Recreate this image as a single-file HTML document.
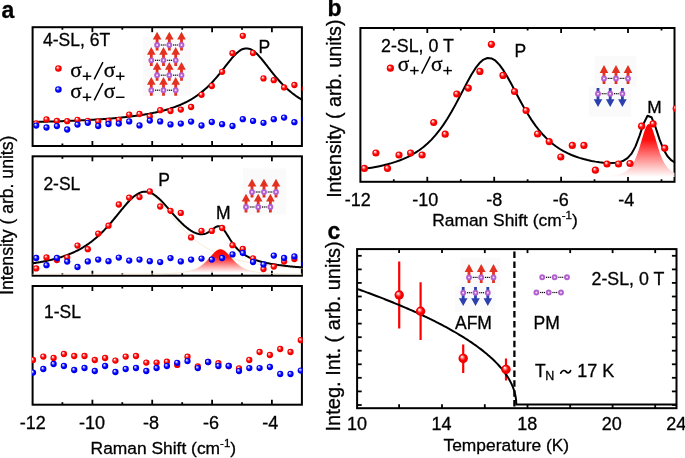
<!DOCTYPE html>
<html><head><meta charset="utf-8"><style>
html,body{margin:0;padding:0;background:#fff;overflow:hidden;}
svg{display:block;font-family:"Liberation Sans", sans-serif;}
svg{will-change:transform;}
text{stroke:#000;stroke-width:0.3px;}
</style></head><body>
<svg width="685" height="458" viewBox="0 0 685 458">
<rect width="685" height="458" fill="#fff"/>
<defs>
<radialGradient id="gR" cx="0.5" cy="0.5" r="0.5" fx="0.34" fy="0.3">
<stop offset="0" stop-color="#ffffff"/><stop offset="0.12" stop-color="#ffe0e0"/><stop offset="0.38" stop-color="#ff5a5a"/><stop offset="0.6" stop-color="#ff0000"/><stop offset="1" stop-color="#e80000"/></radialGradient>
<radialGradient id="gB" cx="0.5" cy="0.5" r="0.5" fx="0.34" fy="0.3">
<stop offset="0" stop-color="#ffffff"/><stop offset="0.12" stop-color="#e0e0ff"/><stop offset="0.38" stop-color="#5a5aff"/><stop offset="0.6" stop-color="#0000ff"/><stop offset="1" stop-color="#0000e8"/></radialGradient>
<linearGradient id="gFa" x1="0" y1="0" x2="0" y2="1"><stop offset="0" stop-color="#ff0000"/><stop offset="0.35" stop-color="#ff1a1a"/><stop offset="1" stop-color="#ffffff" stop-opacity="0.9"/></linearGradient>
<linearGradient id="gFb" x1="0" y1="0" x2="0" y2="1"><stop offset="0" stop-color="#ff0000"/><stop offset="0.3" stop-color="#ff1010"/><stop offset="1" stop-color="#ffffff" stop-opacity="0.9"/></linearGradient>
<clipPath id="ca0"><rect x="32.0" y="27.2" width="270.79999999999995" height="118.8"/></clipPath>
<clipPath id="ca1"><rect x="32.0" y="156.3" width="270.79999999999995" height="119.39999999999998"/></clipPath>
<clipPath id="ca2"><rect x="32.0" y="286.0" width="270.79999999999995" height="118.69999999999999"/></clipPath>
<clipPath id="cb"><rect x="359.79999999999995" y="28.0" width="315.40000000000003" height="153.8"/></clipPath>
<clipPath id="cc"><rect x="357.1" y="249.1" width="319.4" height="159.1"/></clipPath>
</defs>
<line x1="92.4" y1="146.0" x2="92.4" y2="141.0" stroke="#000" stroke-width="1.8"/><line x1="92.4" y1="27.2" x2="92.4" y2="32.2" stroke="#000" stroke-width="1.8"/><line x1="152.2" y1="146.0" x2="152.2" y2="141.0" stroke="#000" stroke-width="1.8"/><line x1="152.2" y1="27.2" x2="152.2" y2="32.2" stroke="#000" stroke-width="1.8"/><line x1="212.1" y1="146.0" x2="212.1" y2="141.0" stroke="#000" stroke-width="1.8"/><line x1="212.1" y1="27.2" x2="212.1" y2="32.2" stroke="#000" stroke-width="1.8"/><line x1="271.9" y1="146.0" x2="271.9" y2="141.0" stroke="#000" stroke-width="1.8"/><line x1="271.9" y1="27.2" x2="271.9" y2="32.2" stroke="#000" stroke-width="1.8"/><line x1="62.4" y1="146.0" x2="62.4" y2="143.5" stroke="#000" stroke-width="1.8"/><line x1="62.4" y1="27.2" x2="62.4" y2="29.7" stroke="#000" stroke-width="1.8"/><line x1="122.3" y1="146.0" x2="122.3" y2="143.5" stroke="#000" stroke-width="1.8"/><line x1="122.3" y1="27.2" x2="122.3" y2="29.7" stroke="#000" stroke-width="1.8"/><line x1="182.2" y1="146.0" x2="182.2" y2="143.5" stroke="#000" stroke-width="1.8"/><line x1="182.2" y1="27.2" x2="182.2" y2="29.7" stroke="#000" stroke-width="1.8"/><line x1="242.0" y1="146.0" x2="242.0" y2="143.5" stroke="#000" stroke-width="1.8"/><line x1="242.0" y1="27.2" x2="242.0" y2="29.7" stroke="#000" stroke-width="1.8"/>
<rect x="32.6" y="27.2" width="269.29999999999995" height="118.8" fill="none" stroke="#000" stroke-width="2.0"/>
<line x1="92.4" y1="275.7" x2="92.4" y2="270.7" stroke="#000" stroke-width="1.8"/><line x1="92.4" y1="156.3" x2="92.4" y2="161.3" stroke="#000" stroke-width="1.8"/><line x1="152.2" y1="275.7" x2="152.2" y2="270.7" stroke="#000" stroke-width="1.8"/><line x1="152.2" y1="156.3" x2="152.2" y2="161.3" stroke="#000" stroke-width="1.8"/><line x1="212.1" y1="275.7" x2="212.1" y2="270.7" stroke="#000" stroke-width="1.8"/><line x1="212.1" y1="156.3" x2="212.1" y2="161.3" stroke="#000" stroke-width="1.8"/><line x1="271.9" y1="275.7" x2="271.9" y2="270.7" stroke="#000" stroke-width="1.8"/><line x1="271.9" y1="156.3" x2="271.9" y2="161.3" stroke="#000" stroke-width="1.8"/><line x1="62.4" y1="275.7" x2="62.4" y2="273.2" stroke="#000" stroke-width="1.8"/><line x1="62.4" y1="156.3" x2="62.4" y2="158.8" stroke="#000" stroke-width="1.8"/><line x1="122.3" y1="275.7" x2="122.3" y2="273.2" stroke="#000" stroke-width="1.8"/><line x1="122.3" y1="156.3" x2="122.3" y2="158.8" stroke="#000" stroke-width="1.8"/><line x1="182.2" y1="275.7" x2="182.2" y2="273.2" stroke="#000" stroke-width="1.8"/><line x1="182.2" y1="156.3" x2="182.2" y2="158.8" stroke="#000" stroke-width="1.8"/><line x1="242.0" y1="275.7" x2="242.0" y2="273.2" stroke="#000" stroke-width="1.8"/><line x1="242.0" y1="156.3" x2="242.0" y2="158.8" stroke="#000" stroke-width="1.8"/>
<rect x="32.6" y="156.3" width="269.29999999999995" height="119.39999999999998" fill="none" stroke="#000" stroke-width="2.0"/>
<line x1="92.4" y1="404.7" x2="92.4" y2="399.7" stroke="#000" stroke-width="1.8"/><line x1="92.4" y1="286.0" x2="92.4" y2="291.0" stroke="#000" stroke-width="1.8"/><line x1="152.2" y1="404.7" x2="152.2" y2="399.7" stroke="#000" stroke-width="1.8"/><line x1="152.2" y1="286.0" x2="152.2" y2="291.0" stroke="#000" stroke-width="1.8"/><line x1="212.1" y1="404.7" x2="212.1" y2="399.7" stroke="#000" stroke-width="1.8"/><line x1="212.1" y1="286.0" x2="212.1" y2="291.0" stroke="#000" stroke-width="1.8"/><line x1="271.9" y1="404.7" x2="271.9" y2="399.7" stroke="#000" stroke-width="1.8"/><line x1="271.9" y1="286.0" x2="271.9" y2="291.0" stroke="#000" stroke-width="1.8"/><line x1="62.4" y1="404.7" x2="62.4" y2="402.2" stroke="#000" stroke-width="1.8"/><line x1="62.4" y1="286.0" x2="62.4" y2="288.5" stroke="#000" stroke-width="1.8"/><line x1="122.3" y1="404.7" x2="122.3" y2="402.2" stroke="#000" stroke-width="1.8"/><line x1="122.3" y1="286.0" x2="122.3" y2="288.5" stroke="#000" stroke-width="1.8"/><line x1="182.2" y1="404.7" x2="182.2" y2="402.2" stroke="#000" stroke-width="1.8"/><line x1="182.2" y1="286.0" x2="182.2" y2="288.5" stroke="#000" stroke-width="1.8"/><line x1="242.0" y1="404.7" x2="242.0" y2="402.2" stroke="#000" stroke-width="1.8"/><line x1="242.0" y1="286.0" x2="242.0" y2="288.5" stroke="#000" stroke-width="1.8"/>
<rect x="32.6" y="286.0" width="269.29999999999995" height="118.69999999999999" fill="none" stroke="#000" stroke-width="2.0"/>
<g clip-path="url(#ca0)">
<polyline points="32.60,122.03 33.50,122.01 34.41,121.98 35.31,121.96 36.22,121.94 37.12,121.92 38.02,121.89 38.93,121.87 39.83,121.85 40.74,121.82 41.64,121.80 42.54,121.78 43.45,121.75 44.35,121.73 45.26,121.70 46.16,121.68 47.06,121.65 47.97,121.62 48.87,121.60 49.78,121.57 50.68,121.54 51.58,121.52 52.49,121.49 53.39,121.46 54.30,121.43 55.20,121.40 56.10,121.37 57.01,121.34 57.91,121.31 58.82,121.28 59.72,121.25 60.62,121.22 61.53,121.19 62.43,121.15 63.34,121.12 64.24,121.09 65.14,121.05 66.05,121.02 66.95,120.98 67.86,120.95 68.76,120.91 69.66,120.88 70.57,120.84 71.47,120.80 72.38,120.77 73.28,120.73 74.18,120.69 75.09,120.65 75.99,120.61 76.90,120.57 77.80,120.53 78.70,120.49 79.61,120.44 80.51,120.40 81.42,120.36 82.32,120.31 83.22,120.27 84.13,120.22 85.03,120.17 85.94,120.13 86.84,120.08 87.74,120.03 88.65,119.98 89.55,119.93 90.46,119.88 91.36,119.83 92.26,119.78 93.17,119.72 94.07,119.67 94.98,119.61 95.88,119.56 96.78,119.50 97.69,119.44 98.59,119.38 99.50,119.33 100.40,119.26 101.31,119.20 102.21,119.14 103.11,119.08 104.02,119.01 104.92,118.95 105.83,118.88 106.73,118.81 107.63,118.74 108.54,118.67 109.44,118.60 110.35,118.53 111.25,118.45 112.15,118.38 113.06,118.30 113.96,118.22 114.87,118.14 115.77,118.06 116.67,117.98 117.58,117.90 118.48,117.81 119.39,117.73 120.29,117.64 121.19,117.55 122.10,117.46 123.00,117.36 123.91,117.27 124.81,117.17 125.71,117.07 126.62,116.97 127.52,116.87 128.43,116.77 129.33,116.66 130.23,116.55 131.14,116.44 132.04,116.33 132.95,116.21 133.85,116.10 134.75,115.98 135.66,115.85 136.56,115.73 137.47,115.60 138.37,115.47 139.27,115.34 140.18,115.21 141.08,115.07 141.99,114.93 142.89,114.78 143.79,114.64 144.70,114.49 145.60,114.34 146.51,114.18 147.41,114.02 148.31,113.86 149.22,113.69 150.12,113.52 151.03,113.35 151.93,113.17 152.83,112.99 153.74,112.80 154.64,112.61 155.55,112.42 156.45,112.22 157.35,112.02 158.26,111.81 159.16,111.59 160.07,111.38 160.97,111.15 161.87,110.93 162.78,110.69 163.68,110.45 164.59,110.21 165.49,109.96 166.39,109.70 167.30,109.43 168.20,109.16 169.11,108.89 170.01,108.60 170.91,108.31 171.82,108.01 172.72,107.71 173.63,107.39 174.53,107.07 175.43,106.74 176.34,106.40 177.24,106.06 178.15,105.70 179.05,105.33 179.95,104.96 180.86,104.57 181.76,104.18 182.67,103.77 183.57,103.35 184.47,102.92 185.38,102.48 186.28,102.03 187.19,101.57 188.09,101.09 188.99,100.60 189.90,100.09 190.80,99.57 191.71,99.04 192.61,98.50 193.51,97.93 194.42,97.36 195.32,96.76 196.23,96.15 197.13,95.52 198.03,94.88 198.94,94.22 199.84,93.54 200.75,92.84 201.65,92.12 202.55,91.39 203.46,90.63 204.36,89.86 205.27,89.06 206.17,88.24 207.07,87.41 207.98,86.55 208.88,85.67 209.79,84.77 210.69,83.85 211.59,82.90 212.50,81.94 213.40,80.96 214.31,79.95 215.21,78.93 216.11,77.88 217.02,76.82 217.92,75.74 218.83,74.65 219.73,73.53 220.63,72.41 221.54,71.27 222.44,70.12 223.35,68.97 224.25,67.81 225.15,66.65 226.06,65.48 226.96,64.32 227.87,63.17 228.77,62.03 229.67,60.90 230.58,59.79 231.48,58.71 232.39,57.65 233.29,56.63 234.19,55.64 235.10,54.70 236.00,53.80 236.91,52.96 237.81,52.18 238.72,51.45 239.62,50.80 240.52,50.21 241.43,49.70 242.33,49.27 243.24,48.93 244.14,48.66 245.04,48.48 245.95,48.39 246.85,48.39 247.76,48.48 248.66,48.65 249.56,48.91 250.47,49.25 251.37,49.68 252.28,50.19 253.18,50.77 254.08,51.42 254.99,52.14 255.89,52.93 256.80,53.77 257.70,54.66 258.60,55.61 259.51,56.59 260.41,57.62 261.32,58.68 262.22,59.76 263.12,60.87 264.03,62.00 264.93,63.15 265.84,64.30 266.74,65.47 267.64,66.63 268.55,67.80 269.45,68.97 270.36,70.13 271.26,71.28 272.16,72.42 273.07,73.55 273.97,74.67 274.88,75.77 275.78,76.86 276.68,77.93 277.59,78.98 278.49,80.01 279.40,81.02 280.30,82.01 281.20,82.98 282.11,83.93 283.01,84.86 283.92,85.76 284.82,86.65 285.72,87.52 286.63,88.36 287.53,89.18 288.44,89.98 289.34,90.77 290.24,91.53 291.15,92.27 292.05,93.00 292.96,93.70 293.86,94.39 294.76,95.05 295.67,95.70 296.57,96.34 297.48,96.95 298.38,97.55 299.28,98.14 300.19,98.71 301.09,99.26 302.00,99.80 302.90,100.32" fill="none" stroke="#000" stroke-width="2.0" stroke-linejoin="round" />
<circle cx="36.2" cy="123.3" r="3.15" fill="url(#gR)"/><circle cx="46.5" cy="119.4" r="3.15" fill="url(#gR)"/><circle cx="56.9" cy="121.0" r="3.15" fill="url(#gR)"/><circle cx="67.2" cy="121.2" r="3.15" fill="url(#gR)"/><circle cx="77.5" cy="119.8" r="3.15" fill="url(#gR)"/><circle cx="87.8" cy="120.8" r="3.15" fill="url(#gR)"/><circle cx="98.2" cy="121.4" r="3.15" fill="url(#gR)"/><circle cx="108.5" cy="121.0" r="3.15" fill="url(#gR)"/><circle cx="118.8" cy="119.8" r="3.15" fill="url(#gR)"/><circle cx="129.2" cy="114.6" r="3.15" fill="url(#gR)"/><circle cx="139.5" cy="114.0" r="3.15" fill="url(#gR)"/><circle cx="149.8" cy="116.4" r="3.15" fill="url(#gR)"/><circle cx="160.2" cy="110.2" r="3.15" fill="url(#gR)"/><circle cx="170.5" cy="111.0" r="3.15" fill="url(#gR)"/><circle cx="180.8" cy="109.6" r="3.15" fill="url(#gR)"/><circle cx="191.1" cy="107.0" r="3.15" fill="url(#gR)"/><circle cx="201.5" cy="94.8" r="3.15" fill="url(#gR)"/><circle cx="211.8" cy="86.0" r="3.15" fill="url(#gR)"/><circle cx="222.1" cy="71.8" r="3.15" fill="url(#gR)"/><circle cx="232.5" cy="53.2" r="3.15" fill="url(#gR)"/><circle cx="242.8" cy="35.8" r="3.15" fill="url(#gR)"/><circle cx="253.1" cy="53.0" r="3.15" fill="url(#gR)"/><circle cx="263.5" cy="78.4" r="3.15" fill="url(#gR)"/><circle cx="273.8" cy="80.2" r="3.15" fill="url(#gR)"/><circle cx="284.1" cy="87.4" r="3.15" fill="url(#gR)"/><circle cx="294.4" cy="85.0" r="3.15" fill="url(#gR)"/><circle cx="304.8" cy="88.7" r="3.15" fill="url(#gR)"/>
<circle cx="36.2" cy="125.6" r="3.15" fill="url(#gB)"/><circle cx="46.5" cy="127.5" r="3.15" fill="url(#gB)"/><circle cx="56.9" cy="126.1" r="3.15" fill="url(#gB)"/><circle cx="67.2" cy="129.5" r="3.15" fill="url(#gB)"/><circle cx="77.5" cy="124.6" r="3.15" fill="url(#gB)"/><circle cx="87.8" cy="122.8" r="3.15" fill="url(#gB)"/><circle cx="98.2" cy="126.0" r="3.15" fill="url(#gB)"/><circle cx="108.5" cy="124.0" r="3.15" fill="url(#gB)"/><circle cx="118.8" cy="123.6" r="3.15" fill="url(#gB)"/><circle cx="129.2" cy="121.4" r="3.15" fill="url(#gB)"/><circle cx="139.5" cy="125.4" r="3.15" fill="url(#gB)"/><circle cx="149.8" cy="120.6" r="3.15" fill="url(#gB)"/><circle cx="160.2" cy="121.4" r="3.15" fill="url(#gB)"/><circle cx="170.5" cy="124.4" r="3.15" fill="url(#gB)"/><circle cx="180.8" cy="123.6" r="3.15" fill="url(#gB)"/><circle cx="191.1" cy="121.6" r="3.15" fill="url(#gB)"/><circle cx="201.5" cy="125.5" r="3.15" fill="url(#gB)"/><circle cx="211.8" cy="122.0" r="3.15" fill="url(#gB)"/><circle cx="222.1" cy="124.2" r="3.15" fill="url(#gB)"/><circle cx="232.5" cy="126.0" r="3.15" fill="url(#gB)"/><circle cx="242.8" cy="119.2" r="3.15" fill="url(#gB)"/><circle cx="253.1" cy="120.9" r="3.15" fill="url(#gB)"/><circle cx="263.5" cy="122.8" r="3.15" fill="url(#gB)"/><circle cx="273.8" cy="119.2" r="3.15" fill="url(#gB)"/><circle cx="284.1" cy="117.6" r="3.15" fill="url(#gB)"/><circle cx="294.4" cy="122.2" r="3.15" fill="url(#gB)"/><circle cx="304.8" cy="119.0" r="3.15" fill="url(#gB)"/>
</g>
<g clip-path="url(#ca1)">
<polyline points="32.60,263.74 33.50,263.60 34.41,263.44 35.31,263.29 36.22,263.13 37.12,262.97 38.02,262.80 38.93,262.63 39.83,262.46 40.74,262.29 41.64,262.11 42.54,261.92 43.45,261.74 44.35,261.55 45.26,261.35 46.16,261.15 47.06,260.95 47.97,260.74 48.87,260.52 49.78,260.31 50.68,260.08 51.58,259.86 52.49,259.62 53.39,259.38 54.30,259.14 55.20,258.89 56.10,258.64 57.01,258.38 57.91,258.11 58.82,257.83 59.72,257.56 60.62,257.27 61.53,256.98 62.43,256.68 63.34,256.37 64.24,256.05 65.14,255.73 66.05,255.40 66.95,255.06 67.86,254.72 68.76,254.36 69.66,254.00 70.57,253.63 71.47,253.24 72.38,252.85 73.28,252.45 74.18,252.04 75.09,251.62 75.99,251.19 76.90,250.74 77.80,250.29 78.70,249.83 79.61,249.35 80.51,248.86 81.42,248.36 82.32,247.85 83.22,247.32 84.13,246.78 85.03,246.22 85.94,245.66 86.84,245.08 87.74,244.48 88.65,243.87 89.55,243.24 90.46,242.60 91.36,241.94 92.26,241.27 93.17,240.58 94.07,239.87 94.98,239.14 95.88,238.40 96.78,237.64 97.69,236.87 98.59,236.07 99.50,235.26 100.40,234.43 101.31,233.58 102.21,232.71 103.11,231.83 104.02,230.93 104.92,230.00 105.83,229.06 106.73,228.11 107.63,227.13 108.54,226.14 109.44,225.13 110.35,224.11 111.25,223.07 112.15,222.02 113.06,220.95 113.96,219.88 114.87,218.79 115.77,217.69 116.67,216.58 117.58,215.47 118.48,214.35 119.39,213.23 120.29,212.11 121.19,210.98 122.10,209.87 123.00,208.76 123.91,207.66 124.81,206.57 125.71,205.50 126.62,204.44 127.52,203.41 128.43,202.40 129.33,201.42 130.23,200.48 131.14,199.57 132.04,198.70 132.95,197.87 133.85,197.09 134.75,196.35 135.66,195.68 136.56,195.05 137.47,194.49 138.37,193.99 139.27,193.56 140.18,193.19 141.08,192.89 141.99,192.66 142.89,192.50 143.79,192.42 144.70,192.40 145.60,192.46 146.51,192.60 147.41,192.80 148.31,193.08 149.22,193.42 150.12,193.84 151.03,194.31 151.93,194.86 152.83,195.46 153.74,196.12 154.64,196.83 155.55,197.60 156.45,198.41 157.35,199.26 158.26,200.16 159.16,201.10 160.07,202.06 160.97,203.06 161.87,204.09 162.78,205.13 163.68,206.20 164.59,207.28 165.49,208.38 166.39,209.49 167.30,210.60 168.20,211.72 169.11,212.84 170.01,213.97 170.91,215.09 171.82,216.20 172.72,217.31 173.63,218.41 174.53,219.51 175.43,220.59 176.34,221.66 177.24,222.71 178.15,223.76 179.05,224.79 179.95,225.80 180.86,226.80 181.76,227.78 182.67,228.74 183.57,229.68 184.47,230.61 185.38,231.52 186.28,232.41 187.19,233.29 188.09,234.14 188.99,234.98 189.90,235.80 190.80,236.60 191.71,237.38 192.61,238.15 193.51,238.89 194.42,239.62 195.32,240.34 196.23,241.03 197.13,241.71 198.03,242.38 198.94,243.02 199.84,243.66 200.75,244.27 201.65,244.87 202.55,245.46 203.46,246.03 204.36,246.59 205.27,247.14 206.17,247.67 207.07,248.19 207.98,248.69 208.88,249.18 209.79,249.66 210.69,250.13 211.59,250.59 212.50,251.04 213.40,251.47 214.31,251.90 215.21,252.31 216.11,252.72 217.02,253.11 217.92,253.50 218.83,253.87 219.73,254.24 220.63,254.60 221.54,254.95 222.44,255.29 223.35,255.62 224.25,255.94 225.15,256.26 226.06,256.57 226.96,256.87 227.87,257.17 228.77,257.46 229.67,257.74 230.58,258.02 231.48,258.28 232.39,258.55 233.29,258.81 234.19,259.06 235.10,259.30 236.00,259.54 236.91,259.78 237.81,260.01 238.72,260.23 239.62,260.45 240.52,260.67 241.43,260.88 242.33,261.08 243.24,261.28 244.14,261.48 245.04,261.67 245.95,261.86 246.85,262.05 247.76,262.23 248.66,262.40 249.56,262.58 250.47,262.75 251.37,262.91 252.28,263.07 253.18,263.23 254.08,263.39 254.99,263.54 255.89,263.69 256.80,263.84 257.70,263.98 258.60,264.13 259.51,264.26 260.41,264.40 261.32,264.53 262.22,264.66 263.12,264.79 264.03,264.92 264.93,265.04 265.84,265.16 266.74,265.28 267.64,265.40 268.55,265.51 269.45,265.62 270.36,265.73 271.26,265.84 272.16,265.95 273.07,266.05 273.97,266.15 274.88,266.25 275.78,266.35 276.68,266.45 277.59,266.54 278.49,266.64 279.40,266.73 280.30,266.82 281.20,266.91 282.11,266.99 283.01,267.08 283.92,267.16 284.82,267.25 285.72,267.33 286.63,267.41 287.53,267.49 288.44,267.56 289.34,267.64 290.24,267.71 291.15,267.79 292.05,267.86 292.96,267.93 293.86,268.00 294.76,268.07 295.67,268.14 296.57,268.20 297.48,268.27 298.38,268.33 299.28,268.40 300.19,268.46 301.09,268.52 302.00,268.58 302.90,268.64" fill="none" stroke="#f3e3c8" stroke-width="0.8" stroke-linejoin="round" />
<polyline points="32.60,274.19 33.50,274.19 34.40,274.19 35.30,274.19 36.20,274.19 37.10,274.19 38.00,274.19 38.90,274.19 39.81,274.19 40.71,274.19 41.61,274.19 42.51,274.19 43.41,274.19 44.31,274.19 45.21,274.19 46.11,274.19 47.01,274.19 47.91,274.19 48.81,274.19 49.71,274.19 50.61,274.19 51.51,274.19 52.41,274.19 53.32,274.19 54.22,274.19 55.12,274.19 56.02,274.19 56.92,274.19 57.82,274.19 58.72,274.19 59.62,274.19 60.52,274.19 61.42,274.19 62.32,274.19 63.22,274.19 64.12,274.19 65.02,274.19 65.92,274.19 66.83,274.19 67.73,274.19 68.63,274.19 69.53,274.19 70.43,274.19 71.33,274.19 72.23,274.19 73.13,274.19 74.03,274.19 74.93,274.19 75.83,274.19 76.73,274.19 77.63,274.19 78.53,274.18 79.43,274.18 80.34,274.18 81.24,274.18 82.14,274.18 83.04,274.18 83.94,274.18 84.84,274.18 85.74,274.18 86.64,274.18 87.54,274.18 88.44,274.18 89.34,274.18 90.24,274.18 91.14,274.18 92.04,274.18 92.94,274.18 93.85,274.18 94.75,274.18 95.65,274.18 96.55,274.17 97.45,274.17 98.35,274.17 99.25,274.17 100.15,274.17 101.05,274.17 101.95,274.17 102.85,274.17 103.75,274.17 104.65,274.17 105.55,274.17 106.45,274.16 107.36,274.16 108.26,274.16 109.16,274.16 110.06,274.16 110.96,274.16 111.86,274.16 112.76,274.16 113.66,274.15 114.56,274.15 115.46,274.15 116.36,274.15 117.26,274.15 118.16,274.15 119.06,274.14 119.96,274.14 120.87,274.14 121.77,274.14 122.67,274.14 123.57,274.13 124.47,274.13 125.37,274.13 126.27,274.13 127.17,274.12 128.07,274.12 128.97,274.12 129.87,274.12 130.77,274.11 131.67,274.11 132.57,274.11 133.47,274.10 134.38,274.10 135.28,274.09 136.18,274.09 137.08,274.08 137.98,274.08 138.88,274.07 139.78,274.07 140.68,274.06 141.58,274.06 142.48,274.05 143.38,274.05 144.28,274.04 145.18,274.03 146.08,274.02 146.98,274.02 147.89,274.01 148.79,274.00 149.69,273.99 150.59,273.98 151.49,273.97 152.39,273.96 153.29,273.94 154.19,273.93 155.09,273.92 155.99,273.90 156.89,273.89 157.79,273.87 158.69,273.86 159.59,273.84 160.49,273.82 161.40,273.80 162.30,273.77 163.20,273.75 164.10,273.73 165.00,273.70 165.90,273.67 166.80,273.64 167.70,273.61 168.60,273.57 169.50,273.53 170.40,273.49 171.30,273.45 172.20,273.40 173.10,273.35 174.01,273.29 174.91,273.23 175.81,273.17 176.71,273.10 177.61,273.03 178.51,272.95 179.41,272.86 180.31,272.77 181.21,272.66 182.11,272.55 183.01,272.43 183.91,272.30 184.81,272.16 185.71,272.01 186.61,271.84 187.52,271.66 188.42,271.46 189.32,271.24 190.22,271.01 191.12,270.75 192.02,270.48 192.92,270.17 193.82,269.84 194.72,269.48 195.62,269.09 196.52,268.67 197.42,268.21 198.32,267.71 199.22,267.17 200.12,266.59 201.03,265.96 201.93,265.28 202.83,264.56 203.73,263.78 204.63,262.96 205.53,262.09 206.43,261.18 207.33,260.22 208.23,259.24 209.13,258.22 210.03,257.19 210.93,256.16 211.83,255.13 212.73,254.13 213.63,253.17 214.54,252.28 215.44,251.47 216.34,250.75 217.24,250.16 218.14,249.70 219.04,249.38 219.94,249.22 220.84,249.22 221.74,249.38 222.64,249.69 223.54,250.15 224.44,250.74 225.34,251.45 226.24,252.26 227.14,253.15 228.05,254.11 228.95,255.11 229.85,256.13 230.75,257.17 231.65,258.20 232.55,259.21 233.45,260.20 234.35,261.16 235.25,262.07 236.15,262.94 237.05,263.76 237.95,264.54 238.85,265.26 239.75,265.94 240.65,266.57 241.56,267.16 242.46,267.70 243.36,268.20 244.26,268.66 245.16,269.08 246.06,269.48 246.96,269.84 247.86,270.17 248.76,270.47 249.66,270.75 250.56,271.00 251.46,271.24 252.36,271.46 253.26,271.65 254.16,271.84 255.07,272.00 255.97,272.16 256.87,272.30 257.77,272.43 258.67,272.55 259.57,272.66 260.47,272.76 261.37,272.86 262.27,272.94 263.17,273.03 264.07,273.10 264.97,273.17 265.87,273.23 266.77,273.29 267.67,273.35 268.58,273.40 269.48,273.45 270.38,273.49 271.28,273.53 272.18,273.57 273.08,273.60 273.98,273.64 274.88,273.67 275.78,273.70 276.68,273.73 277.58,273.75 278.48,273.77 279.38,273.80 280.28,273.82 281.18,273.84 282.09,273.86 282.99,273.87 283.89,273.89 284.79,273.90 285.69,273.92 286.59,273.93 287.49,273.94 288.39,273.96 289.29,273.97 290.19,273.98 291.09,273.99 291.99,274.00 292.89,274.01 293.79,274.02 294.69,274.02 295.60,274.03 296.50,274.04 297.40,274.05 298.30,274.05 299.20,274.06 300.10,274.06 301.00,274.07 301.90,274.07" fill="none" stroke="#f3e3c8" stroke-width="0.9" stroke-linejoin="round" />
<polygon points="32.6,272.7 32.60,272.70 33.50,272.70 34.40,272.70 35.30,272.70 36.20,272.70 37.10,272.70 38.00,272.70 38.90,272.70 39.81,272.70 40.71,272.70 41.61,272.70 42.51,272.70 43.41,272.70 44.31,272.70 45.21,272.70 46.11,272.70 47.01,272.70 47.91,272.70 48.81,272.70 49.71,272.70 50.61,272.70 51.51,272.70 52.41,272.70 53.32,272.70 54.22,272.70 55.12,272.70 56.02,272.70 56.92,272.70 57.82,272.70 58.72,272.70 59.62,272.70 60.52,272.70 61.42,272.70 62.32,272.70 63.22,272.70 64.12,272.70 65.02,272.70 65.92,272.70 66.83,272.70 67.73,272.70 68.63,272.70 69.53,272.70 70.43,272.70 71.33,272.70 72.23,272.70 73.13,272.70 74.03,272.70 74.93,272.70 75.83,272.70 76.73,272.70 77.63,272.70 78.53,272.70 79.43,272.70 80.34,272.70 81.24,272.70 82.14,272.70 83.04,272.70 83.94,272.70 84.84,272.70 85.74,272.70 86.64,272.70 87.54,272.70 88.44,272.70 89.34,272.70 90.24,272.70 91.14,272.70 92.04,272.70 92.94,272.70 93.85,272.70 94.75,272.70 95.65,272.70 96.55,272.70 97.45,272.70 98.35,272.70 99.25,272.70 100.15,272.70 101.05,272.70 101.95,272.70 102.85,272.70 103.75,272.70 104.65,272.70 105.55,272.70 106.45,272.70 107.36,272.70 108.26,272.70 109.16,272.70 110.06,272.70 110.96,272.70 111.86,272.70 112.76,272.70 113.66,272.70 114.56,272.70 115.46,272.70 116.36,272.70 117.26,272.70 118.16,272.70 119.06,272.70 119.96,272.70 120.87,272.70 121.77,272.70 122.67,272.70 123.57,272.70 124.47,272.70 125.37,272.70 126.27,272.70 127.17,272.70 128.07,272.70 128.97,272.70 129.87,272.70 130.77,272.70 131.67,272.70 132.57,272.70 133.47,272.70 134.38,272.70 135.28,272.70 136.18,272.70 137.08,272.70 137.98,272.70 138.88,272.70 139.78,272.70 140.68,272.70 141.58,272.70 142.48,272.70 143.38,272.70 144.28,272.70 145.18,272.70 146.08,272.70 146.98,272.70 147.89,272.70 148.79,272.70 149.69,272.70 150.59,272.70 151.49,272.70 152.39,272.70 153.29,272.70 154.19,272.70 155.09,272.70 155.99,272.70 156.89,272.70 157.79,272.70 158.69,272.70 159.59,272.70 160.49,272.70 161.40,272.70 162.30,272.70 163.20,272.70 164.10,272.70 165.00,272.70 165.90,272.70 166.80,272.70 167.70,272.70 168.60,272.70 169.50,272.70 170.40,272.70 171.30,272.70 172.20,272.70 173.10,272.70 174.01,272.70 174.91,272.70 175.81,272.70 176.71,272.70 177.61,272.70 178.51,272.70 179.41,272.70 180.31,272.70 181.21,272.66 182.11,272.55 183.01,272.43 183.91,272.30 184.81,272.16 185.71,272.01 186.61,271.84 187.52,271.66 188.42,271.46 189.32,271.24 190.22,271.01 191.12,270.75 192.02,270.48 192.92,270.17 193.82,269.84 194.72,269.48 195.62,269.09 196.52,268.67 197.42,268.21 198.32,267.71 199.22,267.17 200.12,266.59 201.03,265.96 201.93,265.28 202.83,264.56 203.73,263.78 204.63,262.96 205.53,262.09 206.43,261.18 207.33,260.22 208.23,259.24 209.13,258.22 210.03,257.19 210.93,256.16 211.83,255.13 212.73,254.13 213.63,253.17 214.54,252.28 215.44,251.47 216.34,250.75 217.24,250.16 218.14,249.70 219.04,249.38 219.94,249.22 220.84,249.22 221.74,249.38 222.64,249.69 223.54,250.15 224.44,250.74 225.34,251.45 226.24,252.26 227.14,253.15 228.05,254.11 228.95,255.11 229.85,256.13 230.75,257.17 231.65,258.20 232.55,259.21 233.45,260.20 234.35,261.16 235.25,262.07 236.15,262.94 237.05,263.76 237.95,264.54 238.85,265.26 239.75,265.94 240.65,266.57 241.56,267.16 242.46,267.70 243.36,268.20 244.26,268.66 245.16,269.08 246.06,269.48 246.96,269.84 247.86,270.17 248.76,270.47 249.66,270.75 250.56,271.00 251.46,271.24 252.36,271.46 253.26,271.65 254.16,271.84 255.07,272.00 255.97,272.16 256.87,272.30 257.77,272.43 258.67,272.55 259.57,272.66 260.47,272.70 261.37,272.70 262.27,272.70 263.17,272.70 264.07,272.70 264.97,272.70 265.87,272.70 266.77,272.70 267.67,272.70 268.58,272.70 269.48,272.70 270.38,272.70 271.28,272.70 272.18,272.70 273.08,272.70 273.98,272.70 274.88,272.70 275.78,272.70 276.68,272.70 277.58,272.70 278.48,272.70 279.38,272.70 280.28,272.70 281.18,272.70 282.09,272.70 282.99,272.70 283.89,272.70 284.79,272.70 285.69,272.70 286.59,272.70 287.49,272.70 288.39,272.70 289.29,272.70 290.19,272.70 291.09,272.70 291.99,272.70 292.89,272.70 293.79,272.70 294.69,272.70 295.60,272.70 296.50,272.70 297.40,272.70 298.30,272.70 299.20,272.70 300.10,272.70 301.00,272.70 301.90,272.70 301.9,272.7" fill="url(#gFa)"/>
<polyline points="32.60,263.30 33.50,263.16 34.41,263.03 35.31,262.89 36.22,262.75 37.12,262.60 38.02,262.45 38.93,262.30 39.83,262.15 40.74,261.99 41.64,261.82 42.54,261.65 43.45,261.48 44.35,261.31 45.26,261.13 46.16,260.94 47.06,260.75 47.97,260.56 48.87,260.36 49.78,260.15 50.68,259.94 51.58,259.73 52.49,259.50 53.39,259.28 54.30,259.05 55.20,258.81 56.10,258.56 57.01,258.31 57.91,258.05 58.82,257.79 59.72,257.52 60.62,257.24 61.53,256.96 62.43,256.66 63.34,256.36 64.24,256.05 65.14,255.73 66.05,255.41 66.95,255.07 67.86,254.73 68.76,254.38 69.66,254.01 70.57,253.64 71.47,253.26 72.38,252.87 73.28,252.47 74.18,252.05 75.09,251.63 75.99,251.19 76.90,250.74 77.80,250.28 78.70,249.81 79.61,249.32 80.51,248.82 81.42,248.31 82.32,247.79 83.22,247.25 84.13,246.69 85.03,246.13 85.94,245.54 86.84,244.94 87.74,244.33 88.65,243.70 89.55,243.05 90.46,242.39 91.36,241.71 92.26,241.01 93.17,240.30 94.07,239.57 94.98,238.82 95.88,238.05 96.78,237.27 97.69,236.47 98.59,235.65 99.50,234.81 100.40,233.95 101.31,233.08 102.21,232.18 103.11,231.27 104.02,230.34 104.92,229.40 105.83,228.43 106.73,227.45 107.63,226.46 108.54,225.44 109.44,224.42 110.35,223.38 111.25,222.32 112.15,221.26 113.06,220.18 113.96,219.09 114.87,217.99 115.77,216.89 116.67,215.78 117.58,214.67 118.48,213.55 119.39,212.44 120.29,211.32 121.19,210.21 122.10,209.11 123.00,208.01 123.91,206.93 124.81,205.86 125.71,204.81 126.62,203.78 127.52,202.77 128.43,201.79 129.33,200.83 130.23,199.91 131.14,199.02 132.04,198.17 132.95,197.36 133.85,196.59 134.75,195.87 135.66,195.20 136.56,194.58 137.47,194.02 138.37,193.51 139.27,193.06 140.18,192.67 141.08,192.34 141.99,192.07 142.89,191.87 143.79,191.74 144.70,191.67 145.60,191.66 146.51,191.72 147.41,191.85 148.31,192.04 149.22,192.29 150.12,192.61 151.03,192.99 151.93,193.42 152.83,193.92 153.74,194.47 154.64,195.07 155.55,195.72 156.45,196.41 157.35,197.15 158.26,197.94 159.16,198.76 160.07,199.61 160.97,200.50 161.87,201.42 162.78,202.36 163.68,203.32 164.59,204.31 165.49,205.31 166.39,206.32 167.30,207.35 168.20,208.38 169.11,209.42 170.01,210.45 170.91,211.49 171.82,212.53 172.72,213.56 173.63,214.59 174.53,215.61 175.43,216.61 176.34,217.61 177.24,218.59 178.15,219.55 179.05,220.49 179.95,221.42 180.86,222.32 181.76,223.21 182.67,224.07 183.57,224.90 184.47,225.71 185.38,226.49 186.28,227.24 187.19,227.97 188.09,228.66 188.99,229.32 189.90,229.95 190.80,230.54 191.71,231.09 192.61,231.61 193.51,232.09 194.42,232.52 195.32,232.92 196.23,233.26 197.13,233.56 198.03,233.81 198.94,234.00 199.84,234.14 200.75,234.23 201.65,234.25 202.55,234.20 203.46,234.09 204.36,233.92 205.27,233.67 206.17,233.35 207.07,232.96 207.98,232.49 208.88,231.96 209.79,231.38 210.69,230.74 211.59,230.06 212.50,229.36 213.40,228.67 214.31,228.00 215.21,227.40 216.11,226.89 217.02,226.50 217.92,226.28 218.83,226.24 219.73,226.41 220.63,226.80 221.54,227.40 222.44,228.21 223.35,229.21 224.25,230.36 225.15,231.64 226.06,233.00 226.96,234.43 227.87,235.89 228.77,237.34 229.67,238.78 230.58,240.19 231.48,241.55 232.39,242.86 233.29,244.10 234.19,245.28 235.10,246.40 236.00,247.46 236.91,248.45 237.81,249.39 238.72,250.27 239.62,251.10 240.52,251.87 241.43,252.60 242.33,253.29 243.24,253.94 244.14,254.55 245.04,255.13 245.95,255.67 246.85,256.19 247.76,256.67 248.66,257.13 249.56,257.57 250.47,257.99 251.37,258.38 252.28,258.76 253.18,259.11 254.08,259.46 254.99,259.78 255.89,260.09 256.80,260.39 257.70,260.68 258.60,260.95 259.51,261.21 260.41,261.47 261.32,261.71 262.22,261.94 263.12,262.16 264.03,262.38 264.93,262.59 265.84,262.79 266.74,262.98 267.64,263.17 268.55,263.35 269.45,263.53 270.36,263.69 271.26,263.86 272.16,264.02 273.07,264.17 273.97,264.32 274.88,264.46 275.78,264.60 276.68,264.74 277.59,264.87 278.49,265.00 279.40,265.13 280.30,265.25 281.20,265.36 282.11,265.48 283.01,265.59 283.92,265.70 284.82,265.81 285.72,265.91 286.63,266.01 287.53,266.11 288.44,266.20 289.34,266.30 290.24,266.39 291.15,266.48 292.05,266.57 292.96,266.65 293.86,266.73 294.76,266.81 295.67,266.89 296.57,266.97 297.48,267.05 298.38,267.12 299.28,267.19 300.19,267.26 301.09,267.33 302.00,267.40 302.90,267.47" fill="none" stroke="#000" stroke-width="2.0" stroke-linejoin="round" />
<circle cx="36.2" cy="268.4" r="3.15" fill="url(#gR)"/><circle cx="46.5" cy="257.4" r="3.15" fill="url(#gR)"/><circle cx="56.9" cy="260.0" r="3.15" fill="url(#gR)"/><circle cx="67.2" cy="257.4" r="3.15" fill="url(#gR)"/><circle cx="77.5" cy="245.6" r="3.15" fill="url(#gR)"/><circle cx="87.8" cy="249.2" r="3.15" fill="url(#gR)"/><circle cx="98.2" cy="233.6" r="3.15" fill="url(#gR)"/><circle cx="108.5" cy="225.7" r="3.15" fill="url(#gR)"/><circle cx="118.8" cy="204.5" r="3.15" fill="url(#gR)"/><circle cx="129.2" cy="197.7" r="3.15" fill="url(#gR)"/><circle cx="139.5" cy="197.1" r="3.15" fill="url(#gR)"/><circle cx="149.8" cy="191.4" r="3.15" fill="url(#gR)"/><circle cx="160.2" cy="206.5" r="3.15" fill="url(#gR)"/><circle cx="170.5" cy="210.8" r="3.15" fill="url(#gR)"/><circle cx="180.8" cy="212.9" r="3.15" fill="url(#gR)"/><circle cx="191.1" cy="237.4" r="3.15" fill="url(#gR)"/><circle cx="201.5" cy="230.8" r="3.15" fill="url(#gR)"/><circle cx="211.8" cy="230.9" r="3.15" fill="url(#gR)"/><circle cx="222.1" cy="228.0" r="3.15" fill="url(#gR)"/><circle cx="232.5" cy="245.2" r="3.15" fill="url(#gR)"/><circle cx="242.8" cy="249.0" r="3.15" fill="url(#gR)"/><circle cx="253.1" cy="258.4" r="3.15" fill="url(#gR)"/><circle cx="263.5" cy="269.0" r="3.15" fill="url(#gR)"/><circle cx="273.8" cy="266.6" r="3.15" fill="url(#gR)"/><circle cx="284.1" cy="261.6" r="3.15" fill="url(#gR)"/><circle cx="294.4" cy="259.0" r="3.15" fill="url(#gR)"/>
<circle cx="36.2" cy="258.0" r="3.15" fill="url(#gB)"/><circle cx="46.5" cy="265.2" r="3.15" fill="url(#gB)"/><circle cx="56.9" cy="258.0" r="3.15" fill="url(#gB)"/><circle cx="67.2" cy="261.6" r="3.15" fill="url(#gB)"/><circle cx="77.5" cy="267.0" r="3.15" fill="url(#gB)"/><circle cx="87.8" cy="261.4" r="3.15" fill="url(#gB)"/><circle cx="98.2" cy="259.6" r="3.15" fill="url(#gB)"/><circle cx="108.5" cy="261.2" r="3.15" fill="url(#gB)"/><circle cx="118.8" cy="257.6" r="3.15" fill="url(#gB)"/><circle cx="129.2" cy="260.6" r="3.15" fill="url(#gB)"/><circle cx="139.5" cy="259.6" r="3.15" fill="url(#gB)"/><circle cx="149.8" cy="261.2" r="3.15" fill="url(#gB)"/><circle cx="160.2" cy="262.1" r="3.15" fill="url(#gB)"/><circle cx="170.5" cy="258.1" r="3.15" fill="url(#gB)"/><circle cx="180.8" cy="261.4" r="3.15" fill="url(#gB)"/><circle cx="191.1" cy="259.6" r="3.15" fill="url(#gB)"/><circle cx="201.5" cy="258.6" r="3.15" fill="url(#gB)"/><circle cx="211.8" cy="259.6" r="3.15" fill="url(#gB)"/><circle cx="222.1" cy="258.0" r="3.15" fill="url(#gB)"/><circle cx="232.5" cy="254.4" r="3.15" fill="url(#gB)"/><circle cx="242.8" cy="253.0" r="3.15" fill="url(#gB)"/><circle cx="253.1" cy="262.0" r="3.15" fill="url(#gB)"/><circle cx="263.5" cy="264.4" r="3.15" fill="url(#gB)"/><circle cx="273.8" cy="255.6" r="3.15" fill="url(#gB)"/><circle cx="284.1" cy="258.0" r="3.15" fill="url(#gB)"/><circle cx="294.4" cy="256.4" r="3.15" fill="url(#gB)"/><circle cx="304.8" cy="264.0" r="3.15" fill="url(#gB)"/>
</g>
<g clip-path="url(#ca2)">
<circle cx="33.0" cy="360.0" r="3.15" fill="url(#gR)"/><circle cx="43.3" cy="356.6" r="3.15" fill="url(#gR)"/><circle cx="53.6" cy="358.0" r="3.15" fill="url(#gR)"/><circle cx="63.9" cy="354.0" r="3.15" fill="url(#gR)"/><circle cx="74.2" cy="356.0" r="3.15" fill="url(#gR)"/><circle cx="84.5" cy="356.0" r="3.15" fill="url(#gR)"/><circle cx="94.8" cy="360.0" r="3.15" fill="url(#gR)"/><circle cx="105.1" cy="358.0" r="3.15" fill="url(#gR)"/><circle cx="115.4" cy="360.6" r="3.15" fill="url(#gR)"/><circle cx="125.7" cy="356.6" r="3.15" fill="url(#gR)"/><circle cx="136.0" cy="356.0" r="3.15" fill="url(#gR)"/><circle cx="146.3" cy="362.6" r="3.15" fill="url(#gR)"/><circle cx="156.6" cy="362.6" r="3.15" fill="url(#gR)"/><circle cx="166.9" cy="361.7" r="3.15" fill="url(#gR)"/><circle cx="177.2" cy="364.9" r="3.15" fill="url(#gR)"/><circle cx="187.5" cy="356.7" r="3.15" fill="url(#gR)"/><circle cx="197.8" cy="366.5" r="3.15" fill="url(#gR)"/><circle cx="208.1" cy="362.0" r="3.15" fill="url(#gR)"/><circle cx="218.4" cy="363.2" r="3.15" fill="url(#gR)"/><circle cx="228.7" cy="366.0" r="3.15" fill="url(#gR)"/><circle cx="239.0" cy="368.4" r="3.15" fill="url(#gR)"/><circle cx="249.3" cy="360.0" r="3.15" fill="url(#gR)"/><circle cx="259.6" cy="352.0" r="3.15" fill="url(#gR)"/><circle cx="269.9" cy="355.0" r="3.15" fill="url(#gR)"/><circle cx="280.2" cy="349.0" r="3.15" fill="url(#gR)"/><circle cx="290.5" cy="352.0" r="3.15" fill="url(#gR)"/><circle cx="300.8" cy="340.2" r="3.15" fill="url(#gR)"/>
<circle cx="33.0" cy="372.6" r="3.15" fill="url(#gB)"/><circle cx="43.3" cy="369.0" r="3.15" fill="url(#gB)"/><circle cx="53.6" cy="364.0" r="3.15" fill="url(#gB)"/><circle cx="63.9" cy="366.0" r="3.15" fill="url(#gB)"/><circle cx="74.2" cy="370.0" r="3.15" fill="url(#gB)"/><circle cx="84.5" cy="368.0" r="3.15" fill="url(#gB)"/><circle cx="94.8" cy="371.0" r="3.15" fill="url(#gB)"/><circle cx="105.1" cy="366.0" r="3.15" fill="url(#gB)"/><circle cx="115.4" cy="372.0" r="3.15" fill="url(#gB)"/><circle cx="125.7" cy="369.0" r="3.15" fill="url(#gB)"/><circle cx="136.0" cy="368.0" r="3.15" fill="url(#gB)"/><circle cx="146.3" cy="371.0" r="3.15" fill="url(#gB)"/><circle cx="156.6" cy="368.0" r="3.15" fill="url(#gB)"/><circle cx="166.9" cy="366.0" r="3.15" fill="url(#gB)"/><circle cx="177.2" cy="362.8" r="3.15" fill="url(#gB)"/><circle cx="187.5" cy="361.1" r="3.15" fill="url(#gB)"/><circle cx="197.8" cy="368.1" r="3.15" fill="url(#gB)"/><circle cx="208.1" cy="362.0" r="3.15" fill="url(#gB)"/><circle cx="218.4" cy="366.0" r="3.15" fill="url(#gB)"/><circle cx="228.7" cy="366.0" r="3.15" fill="url(#gB)"/><circle cx="239.0" cy="371.1" r="3.15" fill="url(#gB)"/><circle cx="249.3" cy="368.1" r="3.15" fill="url(#gB)"/><circle cx="259.6" cy="368.1" r="3.15" fill="url(#gB)"/><circle cx="269.9" cy="367.0" r="3.15" fill="url(#gB)"/><circle cx="280.2" cy="374.0" r="3.15" fill="url(#gB)"/><circle cx="290.5" cy="374.0" r="3.15" fill="url(#gB)"/><circle cx="300.8" cy="370.6" r="3.15" fill="url(#gB)"/>
</g>
<text x="32.80" y="428.8" font-size="18" text-anchor="middle">-12</text>
<text x="92.10" y="428.8" font-size="18" text-anchor="middle">-10</text>
<text x="151.10" y="428.8" font-size="18" text-anchor="middle">-8</text>
<text x="210.90" y="428.8" font-size="18" text-anchor="middle">-6</text>
<text x="270.20" y="428.8" font-size="18" text-anchor="middle">-4</text>
<text x="90.6" y="454.4" font-size="17.4">Raman Shift (cm<tspan font-size="11.5" dy="-7">-1</tspan><tspan dy="7">)</tspan></text>
<text transform="translate(13,215.3) rotate(-90)" font-size="17.6" text-anchor="middle">Intensity ( arb. units)</text>
<text x="1.5" y="17.7" font-size="23" font-weight="bold">a</text>
<text x="43" y="46.1" font-size="17.5">4-SL, 6T</text>
<text x="43.4" y="189.8" font-size="17.5">2-SL</text>
<text x="44" y="317.7" font-size="17.5">1-SL</text>
<text x="258.6" y="52.5" font-size="17.5">P</text>
<text x="158.3" y="186" font-size="17.5">P</text>
<text x="216" y="219" font-size="17.5">M</text>
<circle cx="58.4" cy="68.5" r="3.3" fill="url(#gR)"/>
<circle cx="58.4" cy="89.5" r="3.3" fill="url(#gB)"/>
<text x="70.3" y="76.6" font-size="21.5" font-family="Liberation Serif">σ</text><text x="103.7" y="76.6" font-size="21.5" font-family="Liberation Serif">σ</text><line x1="94.2" y1="79.4" x2="102.9" y2="62.1" stroke="#000" stroke-width="1.45" fill="none"/><line x1="82.7" y1="76.3" x2="91.3" y2="76.3" stroke="#000" stroke-width="1.45" fill="none"/><line x1="87.0" y1="72.3" x2="87.0" y2="80.3" stroke="#000" stroke-width="1.45" fill="none"/><line x1="115.9" y1="76.3" x2="124.5" y2="76.3" stroke="#000" stroke-width="1.45" fill="none"/><line x1="120.2" y1="72.3" x2="120.2" y2="80.3" stroke="#000" stroke-width="1.45" fill="none"/>
<text x="70.3" y="97.6" font-size="21.5" font-family="Liberation Serif">σ</text><text x="103.7" y="97.6" font-size="21.5" font-family="Liberation Serif">σ</text><line x1="94.2" y1="100.4" x2="102.9" y2="83.1" stroke="#000" stroke-width="1.45" fill="none"/><line x1="82.7" y1="97.3" x2="91.3" y2="97.3" stroke="#000" stroke-width="1.45" fill="none"/><line x1="87.0" y1="93.3" x2="87.0" y2="101.3" stroke="#000" stroke-width="1.45" fill="none"/><line x1="115.9" y1="97.3" x2="124.5" y2="97.3" stroke="#000" stroke-width="1.45" fill="none"/>
<line x1="427.3" y1="181.8" x2="427.3" y2="176.8" stroke="#000" stroke-width="1.8"/><line x1="427.3" y1="28.0" x2="427.3" y2="33.0" stroke="#000" stroke-width="1.8"/><line x1="494.2" y1="181.8" x2="494.2" y2="176.8" stroke="#000" stroke-width="1.8"/><line x1="494.2" y1="28.0" x2="494.2" y2="33.0" stroke="#000" stroke-width="1.8"/><line x1="561.1" y1="181.8" x2="561.1" y2="176.8" stroke="#000" stroke-width="1.8"/><line x1="561.1" y1="28.0" x2="561.1" y2="33.0" stroke="#000" stroke-width="1.8"/><line x1="628.0" y1="181.8" x2="628.0" y2="176.8" stroke="#000" stroke-width="1.8"/><line x1="628.0" y1="28.0" x2="628.0" y2="33.0" stroke="#000" stroke-width="1.8"/><line x1="393.8" y1="181.8" x2="393.8" y2="179.3" stroke="#000" stroke-width="1.8"/><line x1="393.8" y1="28.0" x2="393.8" y2="30.5" stroke="#000" stroke-width="1.8"/><line x1="460.8" y1="181.8" x2="460.8" y2="179.3" stroke="#000" stroke-width="1.8"/><line x1="460.8" y1="28.0" x2="460.8" y2="30.5" stroke="#000" stroke-width="1.8"/><line x1="527.6" y1="181.8" x2="527.6" y2="179.3" stroke="#000" stroke-width="1.8"/><line x1="527.6" y1="28.0" x2="527.6" y2="30.5" stroke="#000" stroke-width="1.8"/><line x1="594.5" y1="181.8" x2="594.5" y2="179.3" stroke="#000" stroke-width="1.8"/><line x1="594.5" y1="28.0" x2="594.5" y2="30.5" stroke="#000" stroke-width="1.8"/><line x1="661.5" y1="181.8" x2="661.5" y2="179.3" stroke="#000" stroke-width="1.8"/><line x1="661.5" y1="28.0" x2="661.5" y2="30.5" stroke="#000" stroke-width="1.8"/>
<rect x="360.4" y="28.0" width="314.1" height="153.8" fill="none" stroke="#000" stroke-width="2.0"/>
<g clip-path="url(#cb)">
<polygon points="360.4,177.0 360.40,177.00 361.03,177.00 361.66,177.00 362.29,177.00 362.92,177.00 363.55,177.00 364.18,177.00 364.81,177.00 365.44,177.00 366.07,177.00 366.69,177.00 367.32,177.00 367.95,177.00 368.58,177.00 369.21,177.00 369.84,177.00 370.47,177.00 371.10,177.00 371.73,177.00 372.36,177.00 372.99,177.00 373.62,177.00 374.25,177.00 374.88,177.00 375.51,177.00 376.14,177.00 376.77,177.00 377.40,177.00 378.02,177.00 378.65,177.00 379.28,177.00 379.91,177.00 380.54,177.00 381.17,177.00 381.80,177.00 382.43,177.00 383.06,177.00 383.69,177.00 384.32,177.00 384.95,177.00 385.58,177.00 386.21,177.00 386.84,177.00 387.47,177.00 388.10,177.00 388.73,177.00 389.36,177.00 389.98,177.00 390.61,177.00 391.24,177.00 391.87,177.00 392.50,177.00 393.13,177.00 393.76,177.00 394.39,177.00 395.02,177.00 395.65,177.00 396.28,177.00 396.91,177.00 397.54,177.00 398.17,177.00 398.80,177.00 399.43,177.00 400.06,177.00 400.69,177.00 401.31,177.00 401.94,177.00 402.57,177.00 403.20,177.00 403.83,177.00 404.46,177.00 405.09,177.00 405.72,177.00 406.35,177.00 406.98,177.00 407.61,177.00 408.24,177.00 408.87,177.00 409.50,177.00 410.13,177.00 410.76,177.00 411.39,177.00 412.02,177.00 412.65,177.00 413.27,177.00 413.90,177.00 414.53,177.00 415.16,177.00 415.79,177.00 416.42,177.00 417.05,177.00 417.68,177.00 418.31,177.00 418.94,177.00 419.57,177.00 420.20,177.00 420.83,177.00 421.46,177.00 422.09,177.00 422.72,177.00 423.35,177.00 423.98,177.00 424.60,177.00 425.23,177.00 425.86,177.00 426.49,177.00 427.12,177.00 427.75,177.00 428.38,177.00 429.01,177.00 429.64,177.00 430.27,177.00 430.90,177.00 431.53,177.00 432.16,177.00 432.79,177.00 433.42,177.00 434.05,177.00 434.68,177.00 435.31,177.00 435.94,177.00 436.56,177.00 437.19,177.00 437.82,177.00 438.45,177.00 439.08,177.00 439.71,177.00 440.34,177.00 440.97,177.00 441.60,177.00 442.23,177.00 442.86,177.00 443.49,177.00 444.12,177.00 444.75,177.00 445.38,177.00 446.01,177.00 446.64,177.00 447.27,177.00 447.89,177.00 448.52,177.00 449.15,177.00 449.78,177.00 450.41,177.00 451.04,177.00 451.67,177.00 452.30,177.00 452.93,177.00 453.56,177.00 454.19,177.00 454.82,177.00 455.45,177.00 456.08,177.00 456.71,177.00 457.34,177.00 457.97,177.00 458.60,177.00 459.23,177.00 459.85,177.00 460.48,177.00 461.11,177.00 461.74,177.00 462.37,177.00 463.00,177.00 463.63,177.00 464.26,177.00 464.89,177.00 465.52,177.00 466.15,177.00 466.78,177.00 467.41,177.00 468.04,177.00 468.67,177.00 469.30,177.00 469.93,177.00 470.56,177.00 471.18,177.00 471.81,177.00 472.44,177.00 473.07,177.00 473.70,177.00 474.33,177.00 474.96,177.00 475.59,177.00 476.22,177.00 476.85,177.00 477.48,177.00 478.11,177.00 478.74,177.00 479.37,177.00 480.00,177.00 480.63,177.00 481.26,177.00 481.89,177.00 482.52,177.00 483.14,177.00 483.77,177.00 484.40,177.00 485.03,177.00 485.66,177.00 486.29,177.00 486.92,177.00 487.55,176.99 488.18,176.99 488.81,176.99 489.44,176.99 490.07,176.99 490.70,176.99 491.33,176.99 491.96,176.99 492.59,176.99 493.22,176.99 493.85,176.99 494.47,176.99 495.10,176.99 495.73,176.99 496.36,176.99 496.99,176.99 497.62,176.99 498.25,176.99 498.88,176.99 499.51,176.99 500.14,176.99 500.77,176.99 501.40,176.99 502.03,176.99 502.66,176.99 503.29,176.99 503.92,176.99 504.55,176.99 505.18,176.99 505.81,176.99 506.43,176.99 507.06,176.99 507.69,176.99 508.32,176.99 508.95,176.99 509.58,176.99 510.21,176.99 510.84,176.99 511.47,176.99 512.10,176.99 512.73,176.99 513.36,176.99 513.99,176.99 514.62,176.99 515.25,176.99 515.88,176.99 516.51,176.99 517.14,176.99 517.76,176.99 518.39,176.99 519.02,176.99 519.65,176.99 520.28,176.99 520.91,176.99 521.54,176.99 522.17,176.99 522.80,176.99 523.43,176.99 524.06,176.99 524.69,176.99 525.32,176.99 525.95,176.99 526.58,176.98 527.21,176.98 527.84,176.98 528.47,176.98 529.09,176.98 529.72,176.98 530.35,176.98 530.98,176.98 531.61,176.98 532.24,176.98 532.87,176.98 533.50,176.98 534.13,176.98 534.76,176.98 535.39,176.98 536.02,176.98 536.65,176.98 537.28,176.98 537.91,176.98 538.54,176.98 539.17,176.98 539.80,176.98 540.43,176.98 541.05,176.98 541.68,176.97 542.31,176.97 542.94,176.97 543.57,176.97 544.20,176.97 544.83,176.97 545.46,176.97 546.09,176.97 546.72,176.97 547.35,176.97 547.98,176.97 548.61,176.97 549.24,176.97 549.87,176.97 550.50,176.96 551.13,176.96 551.76,176.96 552.38,176.96 553.01,176.96 553.64,176.96 554.27,176.96 554.90,176.96 555.53,176.96 556.16,176.96 556.79,176.95 557.42,176.95 558.05,176.95 558.68,176.95 559.31,176.95 559.94,176.95 560.57,176.95 561.20,176.94 561.83,176.94 562.46,176.94 563.09,176.94 563.72,176.94 564.34,176.94 564.97,176.93 565.60,176.93 566.23,176.93 566.86,176.93 567.49,176.93 568.12,176.92 568.75,176.92 569.38,176.92 570.01,176.92 570.64,176.91 571.27,176.91 571.90,176.91 572.53,176.91 573.16,176.90 573.79,176.90 574.42,176.90 575.05,176.89 575.67,176.89 576.30,176.89 576.93,176.88 577.56,176.88 578.19,176.87 578.82,176.87 579.45,176.86 580.08,176.86 580.71,176.86 581.34,176.85 581.97,176.84 582.60,176.84 583.23,176.83 583.86,176.83 584.49,176.82 585.12,176.81 585.75,176.81 586.38,176.80 587.01,176.79 587.63,176.78 588.26,176.77 588.89,176.77 589.52,176.76 590.15,176.75 590.78,176.74 591.41,176.72 592.04,176.71 592.67,176.70 593.30,176.69 593.93,176.68 594.56,176.66 595.19,176.65 595.82,176.63 596.45,176.61 597.08,176.60 597.71,176.58 598.34,176.56 598.96,176.54 599.59,176.52 600.22,176.49 600.85,176.47 601.48,176.44 602.11,176.42 602.74,176.39 603.37,176.36 604.00,176.32 604.63,176.29 605.26,176.25 605.89,176.21 606.52,176.17 607.15,176.13 607.78,176.08 608.41,176.03 609.04,175.97 609.67,175.91 610.30,175.85 610.92,175.79 611.55,175.72 612.18,175.64 612.81,175.56 613.44,175.47 614.07,175.38 614.70,175.28 615.33,175.17 615.96,175.05 616.59,174.93 617.22,174.79 617.85,174.65 618.48,174.49 619.11,174.32 619.74,174.14 620.37,173.94 621.00,173.73 621.63,173.49 622.25,173.24 622.88,172.97 623.51,172.68 624.14,172.36 624.77,172.01 625.40,171.63 626.03,171.22 626.66,170.77 627.29,170.29 627.92,169.76 628.55,169.19 629.18,168.56 629.81,167.88 630.44,167.15 631.07,166.35 631.70,165.48 632.33,164.54 632.96,163.52 633.59,162.41 634.21,161.22 634.84,159.94 635.47,158.56 636.10,157.08 636.73,155.51 637.36,153.83 637.99,152.06 638.62,150.19 639.25,148.24 639.88,146.21 640.51,144.12 641.14,141.99 641.77,139.84 642.40,137.69 643.03,135.58 643.66,133.55 644.29,131.61 644.92,129.83 645.54,128.22 646.17,126.84 646.80,125.71 647.43,124.86 648.06,124.32 648.69,124.10 649.32,124.21 649.95,124.64 650.58,125.39 651.21,126.42 651.84,127.72 652.47,129.25 653.10,130.98 653.73,132.87 654.36,134.88 654.99,136.97 655.62,139.10 656.25,141.26 656.88,143.40 657.50,145.50 658.13,147.55 658.76,149.53 659.39,151.43 660.02,153.23 660.65,154.94 661.28,156.55 661.91,158.07 662.54,159.48 663.17,160.79 663.80,162.01 664.43,163.15 665.06,164.19 665.69,165.16 666.32,166.06 666.95,166.88 667.58,167.64 668.21,168.34 668.83,168.98 669.46,169.57 670.09,170.11 670.72,170.61 671.35,171.07 671.98,171.49 672.61,171.88 673.24,172.24 673.87,172.57 674.50,172.87 674.5,177.0" fill="url(#gFb)"/>
<polyline points="360.40,169.29 363.50,168.88 367.50,168.30 371.50,167.66 375.50,166.94 379.50,166.15 383.50,165.27 387.50,164.27 391.50,163.16 395.50,161.91 399.50,160.49 403.50,158.89 407.50,157.07 411.50,155.01 415.50,152.66 419.50,149.99 423.50,146.96 427.50,143.51 431.50,139.60 435.50,135.18 439.50,130.21 443.50,124.66 447.50,118.52 451.50,111.82 455.50,104.63 459.50,97.07 463.50,89.34 467.50,81.71 471.50,74.53 475.50,68.19 479.50,63.10 483.50,59.61 487.50,57.99 491.50,58.38 495.50,60.73 499.50,64.85 503.50,70.42 507.50,77.06 511.50,84.35 515.50,91.92 519.50,99.46 523.50,106.73 527.50,113.57 531.50,119.88 535.50,125.61 539.50,130.75 543.50,135.32 547.50,139.36 551.50,142.92 555.50,146.03 559.50,148.74 563.50,151.11 567.50,153.17 571.50,154.97 575.50,156.53 579.50,157.88 583.50,159.05 587.50,160.05 591.50,160.91 595.50,161.62 599.50,162.21 603.50,162.64 607.50,162.92 611.50,162.98 615.50,162.75 619.50,162.08 623.50,160.70 627.50,158.13 631.50,153.67 635.50,146.38 639.50,135.84 643.50,123.84 647.50,115.80 651.50,117.22 655.50,127.14 659.50,139.41 663.50,149.45 667.50,156.23 671.50,160.44 675.50,162.98" fill="none" stroke="#000" stroke-width="2.0" stroke-linejoin="round" />
<circle cx="364.4" cy="168.4" r="3.6" fill="url(#gR)"/><circle cx="375.9" cy="153.0" r="3.6" fill="url(#gR)"/><circle cx="387.5" cy="168.4" r="3.6" fill="url(#gR)"/><circle cx="399.0" cy="155.0" r="3.6" fill="url(#gR)"/><circle cx="410.6" cy="153.0" r="3.6" fill="url(#gR)"/><circle cx="422.1" cy="155.0" r="3.6" fill="url(#gR)"/><circle cx="433.7" cy="122.5" r="3.6" fill="url(#gR)"/><circle cx="445.2" cy="134.2" r="3.6" fill="url(#gR)"/><circle cx="456.8" cy="94.0" r="3.6" fill="url(#gR)"/><circle cx="468.3" cy="88.1" r="3.6" fill="url(#gR)"/><circle cx="479.9" cy="71.4" r="3.6" fill="url(#gR)"/><circle cx="491.4" cy="44.3" r="3.6" fill="url(#gR)"/><circle cx="503.0" cy="75.4" r="3.6" fill="url(#gR)"/><circle cx="514.5" cy="91.5" r="3.6" fill="url(#gR)"/><circle cx="526.1" cy="110.5" r="3.6" fill="url(#gR)"/><circle cx="537.6" cy="134.0" r="3.6" fill="url(#gR)"/><circle cx="549.2" cy="141.6" r="3.6" fill="url(#gR)"/><circle cx="560.8" cy="157.0" r="3.6" fill="url(#gR)"/><circle cx="572.3" cy="145.4" r="3.6" fill="url(#gR)"/><circle cx="583.9" cy="145.4" r="3.6" fill="url(#gR)"/><circle cx="595.4" cy="170.2" r="3.6" fill="url(#gR)"/><circle cx="607.0" cy="164.0" r="3.6" fill="url(#gR)"/><circle cx="618.5" cy="164.0" r="3.6" fill="url(#gR)"/><circle cx="630.0" cy="163.5" r="3.6" fill="url(#gR)"/><circle cx="641.6" cy="126.2" r="3.6" fill="url(#gR)"/><circle cx="653.1" cy="123.8" r="3.6" fill="url(#gR)"/><circle cx="664.7" cy="148.2" r="3.6" fill="url(#gR)"/><circle cx="676.2" cy="108.5" r="3.6" fill="url(#gR)"/>
</g>
<text x="357.80" y="206.1" font-size="18" text-anchor="middle">-12</text>
<text x="425.25" y="206.1" font-size="18" text-anchor="middle">-10</text>
<text x="494.35" y="206.1" font-size="18" text-anchor="middle">-8</text>
<text x="560.75" y="206.1" font-size="18" text-anchor="middle">-6</text>
<text x="626.15" y="206.1" font-size="18" text-anchor="middle">-4</text>
<text x="432.2" y="226" font-size="17.4">Raman Shift (cm<tspan font-size="11.5" dy="-7">-1</tspan><tspan dy="7">)</tspan></text>
<text transform="translate(340.5,108.7) rotate(-90)" font-size="19.7" text-anchor="middle">Intensity ( arb. units)</text>
<text x="327.5" y="16.4" font-size="23" font-weight="bold">b</text>
<text x="381" y="51.9" font-size="17.8">2-SL, 0 T</text>
<text x="514.5" y="57" font-size="17.5">P</text>
<text x="647.3" y="113.3" font-size="17.3">M</text>
<circle cx="390.4" cy="68.2" r="3.6" fill="url(#gR)"/>
<text x="397.7" y="70.9" font-size="21.5" font-family="Liberation Serif">σ</text><text x="431.1" y="70.9" font-size="21.5" font-family="Liberation Serif">σ</text><line x1="421.6" y1="73.7" x2="430.3" y2="56.4" stroke="#000" stroke-width="1.45" fill="none"/><line x1="410.1" y1="70.6" x2="418.7" y2="70.6" stroke="#000" stroke-width="1.45" fill="none"/><line x1="414.4" y1="66.6" x2="414.4" y2="74.6" stroke="#000" stroke-width="1.45" fill="none"/><line x1="443.3" y1="70.6" x2="451.9" y2="70.6" stroke="#000" stroke-width="1.45" fill="none"/><line x1="447.6" y1="66.6" x2="447.6" y2="74.6" stroke="#000" stroke-width="1.45" fill="none"/>
<line x1="399.1" y1="408.2" x2="399.1" y2="404.2" stroke="#000" stroke-width="1.8"/><line x1="399.1" y1="249.1" x2="399.1" y2="253.1" stroke="#000" stroke-width="1.8"/><line x1="442.0" y1="408.2" x2="442.0" y2="404.2" stroke="#000" stroke-width="1.8"/><line x1="442.0" y1="249.1" x2="442.0" y2="253.1" stroke="#000" stroke-width="1.8"/><line x1="484.8" y1="408.2" x2="484.8" y2="404.2" stroke="#000" stroke-width="1.8"/><line x1="484.8" y1="249.1" x2="484.8" y2="253.1" stroke="#000" stroke-width="1.8"/><line x1="527.5" y1="408.2" x2="527.5" y2="404.2" stroke="#000" stroke-width="1.8"/><line x1="527.5" y1="249.1" x2="527.5" y2="253.1" stroke="#000" stroke-width="1.8"/><line x1="570.2" y1="408.2" x2="570.2" y2="404.2" stroke="#000" stroke-width="1.8"/><line x1="570.2" y1="249.1" x2="570.2" y2="253.1" stroke="#000" stroke-width="1.8"/><line x1="612.6" y1="408.2" x2="612.6" y2="404.2" stroke="#000" stroke-width="1.8"/><line x1="612.6" y1="249.1" x2="612.6" y2="253.1" stroke="#000" stroke-width="1.8"/><line x1="655.2" y1="408.2" x2="655.2" y2="404.2" stroke="#000" stroke-width="1.8"/><line x1="655.2" y1="249.1" x2="655.2" y2="253.1" stroke="#000" stroke-width="1.8"/>
<line x1="357.1" y1="255.8" x2="361.70000000000005" y2="255.8" stroke="#000" stroke-width="1.8"/>
<line x1="676.5" y1="255.8" x2="671.9" y2="255.8" stroke="#000" stroke-width="1.8"/>
<line x1="357.1" y1="269.4" x2="361.70000000000005" y2="269.4" stroke="#000" stroke-width="1.8"/>
<line x1="676.5" y1="269.4" x2="671.9" y2="269.4" stroke="#000" stroke-width="1.8"/>
<line x1="357.1" y1="282.9" x2="361.70000000000005" y2="282.9" stroke="#000" stroke-width="1.8"/>
<line x1="676.5" y1="282.9" x2="671.9" y2="282.9" stroke="#000" stroke-width="1.8"/>
<line x1="357.1" y1="296.5" x2="361.70000000000005" y2="296.5" stroke="#000" stroke-width="1.8"/>
<line x1="676.5" y1="296.5" x2="671.9" y2="296.5" stroke="#000" stroke-width="1.8"/>
<line x1="357.1" y1="310.0" x2="361.70000000000005" y2="310.0" stroke="#000" stroke-width="1.8"/>
<line x1="676.5" y1="310.0" x2="671.9" y2="310.0" stroke="#000" stroke-width="1.8"/>
<line x1="357.1" y1="323.6" x2="361.70000000000005" y2="323.6" stroke="#000" stroke-width="1.8"/>
<line x1="676.5" y1="323.6" x2="671.9" y2="323.6" stroke="#000" stroke-width="1.8"/>
<line x1="357.1" y1="337.2" x2="361.70000000000005" y2="337.2" stroke="#000" stroke-width="1.8"/>
<line x1="676.5" y1="337.2" x2="671.9" y2="337.2" stroke="#000" stroke-width="1.8"/>
<line x1="357.1" y1="350.7" x2="361.70000000000005" y2="350.7" stroke="#000" stroke-width="1.8"/>
<line x1="676.5" y1="350.7" x2="671.9" y2="350.7" stroke="#000" stroke-width="1.8"/>
<line x1="357.1" y1="364.3" x2="361.70000000000005" y2="364.3" stroke="#000" stroke-width="1.8"/>
<line x1="676.5" y1="364.3" x2="671.9" y2="364.3" stroke="#000" stroke-width="1.8"/>
<line x1="357.1" y1="377.8" x2="361.70000000000005" y2="377.8" stroke="#000" stroke-width="1.8"/>
<line x1="676.5" y1="377.8" x2="671.9" y2="377.8" stroke="#000" stroke-width="1.8"/>
<line x1="357.1" y1="391.4" x2="361.70000000000005" y2="391.4" stroke="#000" stroke-width="1.8"/>
<line x1="676.5" y1="391.4" x2="671.9" y2="391.4" stroke="#000" stroke-width="1.8"/>
<line x1="357.1" y1="405.0" x2="361.70000000000005" y2="405.0" stroke="#000" stroke-width="1.8"/>
<line x1="676.5" y1="405.0" x2="671.9" y2="405.0" stroke="#000" stroke-width="1.8"/>
<g clip-path="url(#cc)">
<line x1="399.2" y1="261.4" x2="399.2" y2="328.6" stroke="#ff0000" stroke-width="2.2"/>
<line x1="420.6" y1="282.3" x2="420.6" y2="340.0" stroke="#ff0000" stroke-width="2.2"/>
<line x1="463.2" y1="344.5" x2="463.2" y2="372.9" stroke="#ff0000" stroke-width="2.2"/>
<line x1="506.0" y1="358.4" x2="506.0" y2="380.6" stroke="#ff0000" stroke-width="2.2"/>
<polyline points="357.10,288.86 358.38,289.32 359.67,289.78 360.95,290.24 362.24,290.71 363.52,291.17 364.81,291.64 366.09,292.11 367.38,292.59 368.66,293.06 369.95,293.54 371.23,294.02 372.52,294.50 373.80,294.99 375.09,295.47 376.37,295.96 377.66,296.45 378.94,296.94 380.23,297.44 381.51,297.94 382.80,298.44 384.08,298.94 385.37,299.45 386.65,299.95 387.94,300.46 389.22,300.98 390.51,301.49 391.79,302.01 393.08,302.53 394.36,303.06 395.65,303.58 396.93,304.11 398.22,304.64 399.50,305.18 400.79,305.72 402.07,306.26 403.36,306.80 404.64,307.35 405.93,307.90 407.21,308.46 408.49,309.01 409.78,309.57 411.06,310.14 412.35,310.71 413.63,311.28 414.92,311.85 416.20,312.43 417.49,313.01 418.77,313.60 420.06,314.19 421.34,314.79 422.63,315.38 423.91,315.99 425.20,316.59 426.48,317.21 427.77,317.82 429.05,318.44 430.34,319.07 431.62,319.70 432.91,320.33 434.19,320.97 435.48,321.62 436.76,322.27 438.05,322.92 439.33,323.58 440.62,324.25 441.90,324.92 443.19,325.60 444.47,326.28 445.76,326.97 447.04,327.67 448.33,328.37 449.61,329.09 450.90,329.80 452.18,330.53 453.47,331.26 454.75,332.00 456.04,332.75 457.32,333.50 458.61,334.27 459.89,335.04 461.17,335.82 462.46,336.61 463.74,337.41 465.03,338.23 466.31,339.05 467.60,339.88 468.88,340.72 470.17,341.58 471.45,342.45 472.74,343.33 474.02,344.22 475.31,345.13 476.59,346.05 477.88,346.99 479.16,347.94 480.45,348.91 481.73,349.90 483.02,350.91 484.30,351.93 485.59,352.98 486.87,354.05 488.16,355.15 489.44,356.27 490.73,357.42 492.01,358.60 493.30,359.81 494.58,361.05 495.87,362.34 497.15,363.66 498.44,365.03 499.72,366.46 501.01,367.94 502.29,369.48 503.58,371.10 504.86,372.81 506.15,374.62 507.43,376.55 508.72,378.62 510.00,380.89 510.00,380.89 510.08,381.04 510.16,381.19 510.24,381.34 510.32,381.48 510.39,381.64 510.47,381.79 510.55,381.94 510.63,382.09 510.71,382.25 510.79,382.40 510.87,382.56 510.95,382.72 511.03,382.88 511.11,383.04 511.18,383.20 511.26,383.37 511.34,383.53 511.42,383.70 511.50,383.87 511.58,384.03 511.66,384.20 511.74,384.38 511.82,384.55 511.89,384.72 511.97,384.90 512.05,385.08 512.13,385.26 512.21,385.44 512.29,385.63 512.37,385.81 512.45,386.00 512.53,386.19 512.60,386.38 512.68,386.57 512.76,386.77 512.84,386.97 512.92,387.17 513.00,387.37 513.08,387.58 513.16,387.78 513.24,387.99 513.32,388.21 513.39,388.42 513.47,388.64 513.55,388.87 513.63,389.09 513.71,389.32 513.79,389.56 513.87,389.79 513.95,390.04 514.03,390.28 514.10,390.53 514.18,390.79 514.26,391.05 514.34,391.31 514.42,391.58 514.50,391.86 514.58,392.14 514.66,392.43 514.74,392.73 514.82,393.04 514.89,393.35 514.97,393.68 515.05,394.01 515.13,394.36 515.21,394.72 515.29,395.09 515.37,395.48 515.45,395.89 515.53,396.32 515.60,396.77 515.68,397.26 515.76,397.78 515.84,398.35 515.92,398.98 516.00,399.69 516.08,400.54 516.16,401.66 516.24,404.40 676.50,404.40" fill="none" stroke="#000" stroke-width="2.0" stroke-linejoin="round" />
<line x1="514.4" y1="250.1" x2="514.4" y2="408.2" stroke="#000" stroke-width="2.3" stroke-dasharray="6.5,3.4" stroke-dashoffset="-1.5"/>
<circle cx="399.2" cy="295.0" r="4.7" fill="url(#gR)"/>
<circle cx="420.6" cy="311.3" r="4.7" fill="url(#gR)"/>
<circle cx="463.2" cy="358.4" r="4.7" fill="url(#gR)"/>
<circle cx="506.0" cy="369.4" r="4.7" fill="url(#gR)"/>
</g>
<rect x="357.1" y="249.1" width="319.4" height="159.1" fill="none" stroke="#000" stroke-width="2.0"/>
<text x="356.9" y="429.7" font-size="18" text-anchor="middle">10</text>
<text x="441.6" y="429.7" font-size="18" text-anchor="middle">14</text>
<text x="527.2" y="429.7" font-size="18" text-anchor="middle">18</text>
<text x="611.8" y="429.7" font-size="18" text-anchor="middle">20</text>
<text x="676.3" y="429.7" font-size="18" text-anchor="middle">24</text>
<text x="506.3" y="451.3" font-size="17.4" text-anchor="middle">Temperature (K)</text>
<text transform="translate(340.3,336.4) rotate(-90)" font-size="20" text-anchor="middle">Integ. Int. ( arb. units)</text>
<text x="327.5" y="239.3" font-size="23" font-weight="bold">c</text>
<text x="455" y="328.5" font-size="17.5">AFM</text>
<text x="533.5" y="328.7" font-size="17.5">PM</text>
<text x="591.5" y="285.3" font-size="17.8">2-SL, 0 T</text>
<text x="535" y="376.5" font-size="17.5">T</text><text x="545.2" y="379.8" font-size="12.5">N</text>
<path d="M560.7,373.2 C562.4,369.6 564.8,370.2 566,371.6 C567.2,373.0 569.4,373.8 570.6,370.6" fill="none" stroke="#000" stroke-width="1.7" stroke-linecap="round"/>
<text x="577.2" y="376.5" font-size="18">17 K</text>
<rect x="143" y="36.5" width="48" height="59" fill="#fafafa"/>
<rect x="243" y="168.5" width="43" height="46" fill="#fafafa"/>
<rect x="594.5" y="56" width="42" height="30.5" fill="#fafafa"/>
<rect x="589" y="86.5" width="42" height="30" fill="#fafafa"/>
<rect x="460.5" y="258" width="40" height="28" fill="#fafafa"/>
<rect x="455" y="286" width="40" height="26" fill="#fafafa"/>
<rect x="160.79" y="44.40" width="1.15" height="1.2" fill="#000"/><rect x="162.62" y="44.40" width="1.15" height="1.2" fill="#000"/><rect x="164.46" y="44.40" width="1.15" height="1.2" fill="#000"/><rect x="172.99" y="44.40" width="1.15" height="1.2" fill="#000"/><rect x="174.82" y="44.40" width="1.15" height="1.2" fill="#000"/><rect x="176.66" y="44.40" width="1.15" height="1.2" fill="#000"/><path d="M155.7,50.6 L155.7,39.5 L152.8,39.5 L157.1,31.7 L161.4,39.5 L158.5,39.5 L158.5,50.6 Z" fill="#e3301f"/><path d="M167.9,50.6 L167.9,39.5 L165.0,39.5 L169.3,31.7 L173.6,39.5 L170.7,39.5 L170.7,50.6 Z" fill="#e3301f"/><path d="M180.1,50.6 L180.1,39.5 L177.2,39.5 L181.5,31.7 L185.8,39.5 L182.9,39.5 L182.9,50.6 Z" fill="#e3301f"/><circle cx="157.1" cy="45.0" r="1.95" fill="#f5e8f8" stroke="#b35fcf" stroke-width="1.95"/><circle cx="169.3" cy="45.0" r="1.95" fill="#f5e8f8" stroke="#b35fcf" stroke-width="1.95"/><circle cx="181.5" cy="45.0" r="1.95" fill="#f5e8f8" stroke="#b35fcf" stroke-width="1.95"/>
<rect x="154.99" y="59.70" width="1.15" height="1.2" fill="#000"/><rect x="156.83" y="59.70" width="1.15" height="1.2" fill="#000"/><rect x="158.66" y="59.70" width="1.15" height="1.2" fill="#000"/><rect x="167.19" y="59.70" width="1.15" height="1.2" fill="#000"/><rect x="169.03" y="59.70" width="1.15" height="1.2" fill="#000"/><rect x="170.86" y="59.70" width="1.15" height="1.2" fill="#000"/><path d="M149.9,65.9 L149.9,54.8 L147.0,54.8 L151.3,47.0 L155.6,54.8 L152.7,54.8 L152.7,65.9 Z" fill="#e3301f"/><path d="M162.1,65.9 L162.1,54.8 L159.2,54.8 L163.5,47.0 L167.8,54.8 L164.9,54.8 L164.9,65.9 Z" fill="#e3301f"/><path d="M174.3,65.9 L174.3,54.8 L171.4,54.8 L175.7,47.0 L180.0,54.8 L177.1,54.8 L177.1,65.9 Z" fill="#e3301f"/><circle cx="151.3" cy="60.3" r="1.95" fill="#f5e8f8" stroke="#b35fcf" stroke-width="1.95"/><circle cx="163.5" cy="60.3" r="1.95" fill="#f5e8f8" stroke="#b35fcf" stroke-width="1.95"/><circle cx="175.7" cy="60.3" r="1.95" fill="#f5e8f8" stroke="#b35fcf" stroke-width="1.95"/>
<rect x="160.79" y="74.60" width="1.15" height="1.2" fill="#000"/><rect x="162.62" y="74.60" width="1.15" height="1.2" fill="#000"/><rect x="164.46" y="74.60" width="1.15" height="1.2" fill="#000"/><rect x="172.99" y="74.60" width="1.15" height="1.2" fill="#000"/><rect x="174.82" y="74.60" width="1.15" height="1.2" fill="#000"/><rect x="176.66" y="74.60" width="1.15" height="1.2" fill="#000"/><path d="M155.7,80.8 L155.7,69.7 L152.8,69.7 L157.1,61.9 L161.4,69.7 L158.5,69.7 L158.5,80.8 Z" fill="#e3301f"/><path d="M167.9,80.8 L167.9,69.7 L165.0,69.7 L169.3,61.9 L173.6,69.7 L170.7,69.7 L170.7,80.8 Z" fill="#e3301f"/><path d="M180.1,80.8 L180.1,69.7 L177.2,69.7 L181.5,61.9 L185.8,69.7 L182.9,69.7 L182.9,80.8 Z" fill="#e3301f"/><circle cx="157.1" cy="75.2" r="1.95" fill="#f5e8f8" stroke="#b35fcf" stroke-width="1.95"/><circle cx="169.3" cy="75.2" r="1.95" fill="#f5e8f8" stroke="#b35fcf" stroke-width="1.95"/><circle cx="181.5" cy="75.2" r="1.95" fill="#f5e8f8" stroke="#b35fcf" stroke-width="1.95"/>
<rect x="154.99" y="89.60" width="1.15" height="1.2" fill="#000"/><rect x="156.83" y="89.60" width="1.15" height="1.2" fill="#000"/><rect x="158.66" y="89.60" width="1.15" height="1.2" fill="#000"/><rect x="167.19" y="89.60" width="1.15" height="1.2" fill="#000"/><rect x="169.03" y="89.60" width="1.15" height="1.2" fill="#000"/><rect x="170.86" y="89.60" width="1.15" height="1.2" fill="#000"/><path d="M149.9,95.8 L149.9,84.7 L147.0,84.7 L151.3,76.9 L155.6,84.7 L152.7,84.7 L152.7,95.8 Z" fill="#e3301f"/><path d="M162.1,95.8 L162.1,84.7 L159.2,84.7 L163.5,76.9 L167.8,84.7 L164.9,84.7 L164.9,95.8 Z" fill="#e3301f"/><path d="M174.3,95.8 L174.3,84.7 L171.4,84.7 L175.7,76.9 L180.0,84.7 L177.1,84.7 L177.1,95.8 Z" fill="#e3301f"/><circle cx="151.3" cy="90.2" r="1.95" fill="#f5e8f8" stroke="#b35fcf" stroke-width="1.95"/><circle cx="163.5" cy="90.2" r="1.95" fill="#f5e8f8" stroke="#b35fcf" stroke-width="1.95"/><circle cx="175.7" cy="90.2" r="1.95" fill="#f5e8f8" stroke="#b35fcf" stroke-width="1.95"/>
<rect x="255.64" y="191.40" width="1.15" height="1.2" fill="#000"/><rect x="257.43" y="191.40" width="1.15" height="1.2" fill="#000"/><rect x="259.21" y="191.40" width="1.15" height="1.2" fill="#000"/><rect x="267.64" y="191.40" width="1.15" height="1.2" fill="#000"/><rect x="269.43" y="191.40" width="1.15" height="1.2" fill="#000"/><rect x="271.21" y="191.40" width="1.15" height="1.2" fill="#000"/><path d="M250.6,197.6 L250.6,186.5 L247.7,186.5 L252.0,178.7 L256.3,186.5 L253.4,186.5 L253.4,197.6 Z" fill="#e3301f"/><path d="M262.6,197.6 L262.6,186.5 L259.7,186.5 L264.0,178.7 L268.3,186.5 L265.4,186.5 L265.4,197.6 Z" fill="#e3301f"/><path d="M274.6,197.6 L274.6,186.5 L271.7,186.5 L276.0,178.7 L280.3,186.5 L277.4,186.5 L277.4,197.6 Z" fill="#e3301f"/><circle cx="252.0" cy="192.0" r="1.95" fill="#f5e8f8" stroke="#b35fcf" stroke-width="1.95"/><circle cx="264.0" cy="192.0" r="1.95" fill="#f5e8f8" stroke="#b35fcf" stroke-width="1.95"/><circle cx="276.0" cy="192.0" r="1.95" fill="#f5e8f8" stroke="#b35fcf" stroke-width="1.95"/>
<rect x="249.69" y="206.40" width="1.15" height="1.2" fill="#000"/><rect x="251.53" y="206.40" width="1.15" height="1.2" fill="#000"/><rect x="253.36" y="206.40" width="1.15" height="1.2" fill="#000"/><rect x="261.89" y="206.40" width="1.15" height="1.2" fill="#000"/><rect x="263.72" y="206.40" width="1.15" height="1.2" fill="#000"/><rect x="265.56" y="206.40" width="1.15" height="1.2" fill="#000"/><path d="M244.6,212.6 L244.6,201.5 L241.7,201.5 L246.0,193.7 L250.3,201.5 L247.4,201.5 L247.4,212.6 Z" fill="#e3301f"/><path d="M256.8,212.6 L256.8,201.5 L253.9,201.5 L258.2,193.7 L262.5,201.5 L259.6,201.5 L259.6,212.6 Z" fill="#e3301f"/><path d="M269.0,212.6 L269.0,201.5 L266.1,201.5 L270.4,193.7 L274.7,201.5 L271.8,201.5 L271.8,212.6 Z" fill="#e3301f"/><circle cx="246.0" cy="207.0" r="1.95" fill="#f5e8f8" stroke="#b35fcf" stroke-width="1.95"/><circle cx="258.2" cy="207.0" r="1.95" fill="#f5e8f8" stroke="#b35fcf" stroke-width="1.95"/><circle cx="270.4" cy="207.0" r="1.95" fill="#f5e8f8" stroke="#b35fcf" stroke-width="1.95"/>
<rect x="607.64" y="77.80" width="1.15" height="1.2" fill="#000"/><rect x="609.43" y="77.80" width="1.15" height="1.2" fill="#000"/><rect x="611.21" y="77.80" width="1.15" height="1.2" fill="#000"/><rect x="619.64" y="77.80" width="1.15" height="1.2" fill="#000"/><rect x="621.43" y="77.80" width="1.15" height="1.2" fill="#000"/><rect x="623.21" y="77.80" width="1.15" height="1.2" fill="#000"/><path d="M602.6,84.0 L602.6,72.9 L599.7,72.9 L604.0,65.1 L608.3,72.9 L605.4,72.9 L605.4,84.0 Z" fill="#e3301f"/><path d="M614.6,84.0 L614.6,72.9 L611.7,72.9 L616.0,65.1 L620.3,72.9 L617.4,72.9 L617.4,84.0 Z" fill="#e3301f"/><path d="M626.6,84.0 L626.6,72.9 L623.7,72.9 L628.0,65.1 L632.3,72.9 L629.4,72.9 L629.4,84.0 Z" fill="#e3301f"/><circle cx="604.0" cy="78.4" r="1.95" fill="#f5e8f8" stroke="#b35fcf" stroke-width="1.95"/><circle cx="616.0" cy="78.4" r="1.95" fill="#f5e8f8" stroke="#b35fcf" stroke-width="1.95"/><circle cx="628.0" cy="78.4" r="1.95" fill="#f5e8f8" stroke="#b35fcf" stroke-width="1.95"/>
<rect x="601.69" y="93.10" width="1.15" height="1.2" fill="#000"/><rect x="603.52" y="93.10" width="1.15" height="1.2" fill="#000"/><rect x="605.36" y="93.10" width="1.15" height="1.2" fill="#000"/><rect x="613.89" y="93.10" width="1.15" height="1.2" fill="#000"/><rect x="615.73" y="93.10" width="1.15" height="1.2" fill="#000"/><rect x="617.56" y="93.10" width="1.15" height="1.2" fill="#000"/><path d="M596.6,88.1 L596.6,99.2 L593.7,99.2 L598.0,107.0 L602.3,99.2 L599.4,99.2 L599.4,88.1 Z" fill="#2b3fae"/><path d="M608.8,88.1 L608.8,99.2 L605.9,99.2 L610.2,107.0 L614.5,99.2 L611.6,99.2 L611.6,88.1 Z" fill="#2b3fae"/><path d="M621.0,88.1 L621.0,99.2 L618.1,99.2 L622.4,107.0 L626.7,99.2 L623.8,99.2 L623.8,88.1 Z" fill="#2b3fae"/><circle cx="598.0" cy="93.7" r="1.95" fill="#f5e8f8" stroke="#b35fcf" stroke-width="1.95"/><circle cx="610.2" cy="93.7" r="1.95" fill="#f5e8f8" stroke="#b35fcf" stroke-width="1.95"/><circle cx="622.4" cy="93.7" r="1.95" fill="#f5e8f8" stroke="#b35fcf" stroke-width="1.95"/>
<rect x="472.70" y="276.80" width="1.15" height="1.2" fill="#000"/><rect x="474.55" y="276.80" width="1.15" height="1.2" fill="#000"/><rect x="476.40" y="276.80" width="1.15" height="1.2" fill="#000"/><rect x="484.95" y="276.80" width="1.15" height="1.2" fill="#000"/><rect x="486.80" y="276.80" width="1.15" height="1.2" fill="#000"/><rect x="488.65" y="276.80" width="1.15" height="1.2" fill="#000"/><path d="M467.6,283.0 L467.6,271.9 L464.7,271.9 L469.0,264.1 L473.3,271.9 L470.4,271.9 L470.4,283.0 Z" fill="#e3301f"/><path d="M479.9,283.0 L479.9,271.9 L476.9,271.9 L481.2,264.1 L485.6,271.9 L482.6,271.9 L482.6,283.0 Z" fill="#e3301f"/><path d="M492.1,283.0 L492.1,271.9 L489.2,271.9 L493.5,264.1 L497.8,271.9 L494.9,271.9 L494.9,283.0 Z" fill="#e3301f"/><circle cx="469.0" cy="277.4" r="1.95" fill="#f5e8f8" stroke="#b35fcf" stroke-width="1.95"/><circle cx="481.2" cy="277.4" r="1.95" fill="#f5e8f8" stroke="#b35fcf" stroke-width="1.95"/><circle cx="493.5" cy="277.4" r="1.95" fill="#f5e8f8" stroke="#b35fcf" stroke-width="1.95"/>
<rect x="466.91" y="292.10" width="1.15" height="1.2" fill="#000"/><rect x="468.77" y="292.10" width="1.15" height="1.2" fill="#000"/><rect x="470.64" y="292.10" width="1.15" height="1.2" fill="#000"/><rect x="479.21" y="292.10" width="1.15" height="1.2" fill="#000"/><rect x="481.07" y="292.10" width="1.15" height="1.2" fill="#000"/><rect x="482.94" y="292.10" width="1.15" height="1.2" fill="#000"/><path d="M461.8,287.1 L461.8,298.2 L458.9,298.2 L463.2,306.0 L467.5,298.2 L464.6,298.2 L464.6,287.1 Z" fill="#2b3fae"/><path d="M474.1,287.1 L474.1,298.2 L471.2,298.2 L475.5,306.0 L479.8,298.2 L476.9,298.2 L476.9,287.1 Z" fill="#2b3fae"/><path d="M486.4,287.1 L486.4,298.2 L483.5,298.2 L487.8,306.0 L492.1,298.2 L489.2,298.2 L489.2,287.1 Z" fill="#2b3fae"/><circle cx="463.2" cy="292.7" r="1.95" fill="#f5e8f8" stroke="#b35fcf" stroke-width="1.95"/><circle cx="475.5" cy="292.7" r="1.95" fill="#f5e8f8" stroke="#b35fcf" stroke-width="1.95"/><circle cx="487.8" cy="292.7" r="1.95" fill="#f5e8f8" stroke="#b35fcf" stroke-width="1.95"/>
<rect x="545.94" y="276.70" width="1.15" height="1.2" fill="#000"/><rect x="547.83" y="276.70" width="1.15" height="1.2" fill="#000"/><rect x="549.71" y="276.70" width="1.15" height="1.2" fill="#000"/><rect x="558.34" y="276.70" width="1.15" height="1.2" fill="#000"/><rect x="560.23" y="276.70" width="1.15" height="1.2" fill="#000"/><rect x="562.11" y="276.70" width="1.15" height="1.2" fill="#000"/><circle cx="542.2" cy="277.3" r="1.95" fill="#f5e8f8" stroke="#b35fcf" stroke-width="1.95"/><circle cx="554.6" cy="277.3" r="1.95" fill="#f5e8f8" stroke="#b35fcf" stroke-width="1.95"/><circle cx="567.0" cy="277.3" r="1.95" fill="#f5e8f8" stroke="#b35fcf" stroke-width="1.95"/>
<rect x="540.11" y="291.90" width="1.15" height="1.2" fill="#000"/><rect x="541.97" y="291.90" width="1.15" height="1.2" fill="#000"/><rect x="543.84" y="291.90" width="1.15" height="1.2" fill="#000"/><rect x="552.41" y="291.90" width="1.15" height="1.2" fill="#000"/><rect x="554.27" y="291.90" width="1.15" height="1.2" fill="#000"/><rect x="556.14" y="291.90" width="1.15" height="1.2" fill="#000"/><circle cx="536.4" cy="292.5" r="1.95" fill="#f5e8f8" stroke="#b35fcf" stroke-width="1.95"/><circle cx="548.7" cy="292.5" r="1.95" fill="#f5e8f8" stroke="#b35fcf" stroke-width="1.95"/><circle cx="561.0" cy="292.5" r="1.95" fill="#f5e8f8" stroke="#b35fcf" stroke-width="1.95"/>
</svg></body></html>
